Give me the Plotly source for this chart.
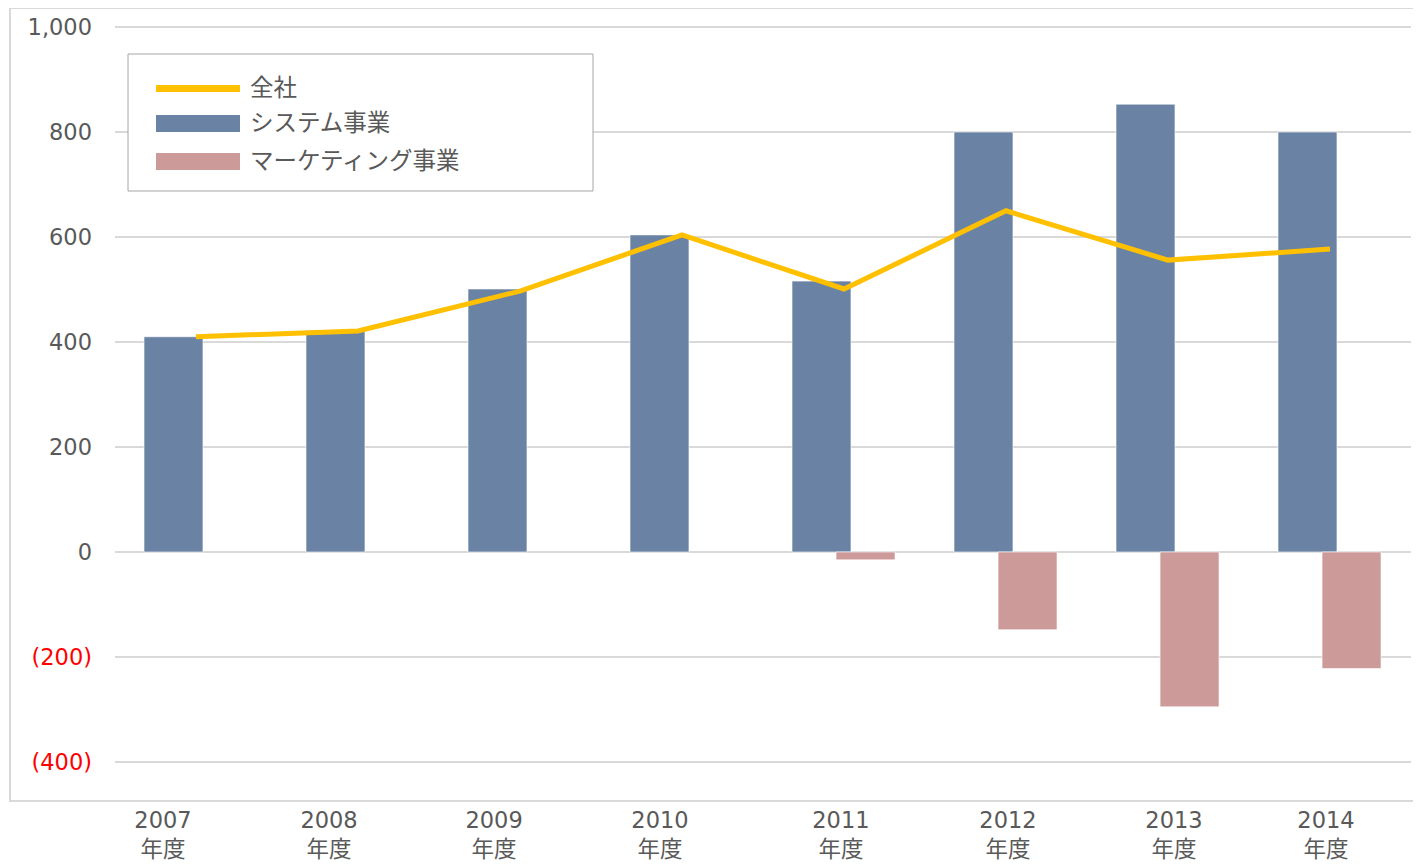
import plotly.graph_objects as go

# ---- data ----
years = ["2007", "2008", "2009", "2010", "2011", "2012", "2013", "2014"]
year_labels = [f"{y}<br>年度" for y in years]
system_vals = [410, 422, 501, 604, 516, 800, 853, 800]
marketing_vals = [None, None, None, None, -15, -148, -295, -222]
total_vals = [410, 421, 497, 604, 501, 650, 556, 577]
y_ticks = [-400, -200, 0, 200, 400, 600, 800, 1000]
y_tick_text = ['<span style="color:#FF0000">(400)</span>',
               '<span style="color:#FF0000">(200)</span>',
               "0", "200", "400", "600", "800", "1,000"]

# label placement nudges (in category units) as seen in the original
label_nudge = [-0.204, -0.179, -0.160, -0.136, -0.019, 0.012, 0.037, -0.025]

C_SYS = "#6A83A4"
C_MKT = "#CC9A99"
C_TOT = "#FFC000"
GRAY = "#595959"
FONT = "DejaVu Sans, Noto Sans CJK JP, sans-serif"

# page has an 8px body margin; work in page pixels, convert to figure pixels
OFF = 8
W, H = 1413, 856
L, R, T, B = 115 - OFF, W - (1411 - OFF), 8 - OFF, H - (801 - OFF)
PW, PH = W - L - R, H - T - B


def px(x):
    return (x - OFF - L) / PW


def py(y):
    return (H - B - (y - OFF)) / PH


xs = list(range(len(years)))
bw = 0.364

fig = go.Figure()
fig.add_trace(go.Bar(
    x=xs, y=system_vals, name="システム事業", width=bw, offset=-0.139 - bw / 2,
    marker=dict(color=C_SYS, line=dict(color="rgba(255,255,255,0.6)", width=1)),
    showlegend=False))
fig.add_trace(go.Bar(
    x=xs, y=marketing_vals, name="マーケティング事業", width=bw, offset=0.133 - bw / 2,
    marker=dict(color=C_MKT, line=dict(color="rgba(255,255,255,0.6)", width=1)),
    showlegend=False))
fig.add_trace(go.Scatter(
    x=xs, y=total_vals, name="全社", mode="lines",
    line=dict(color=C_TOT, width=5), showlegend=False))

# custom legend
shapes = [
    dict(type="rect", xref="paper", yref="paper",
         x0=px(10), x1=px(1420), y0=py(801), y1=py(8),
         line=dict(color="#D9D9D9", width=2), fillcolor="rgba(0,0,0,0)", layer="below"),
    dict(type="rect", xref="paper", yref="paper",
         x0=px(128), x1=px(593), y0=py(191), y1=py(54),
         line=dict(color="#A6A6A6", width=1), fillcolor="white", layer="above"),
    dict(type="rect", xref="paper", yref="paper",
         x0=px(156), x1=px(240), y0=py(92), y1=py(85),
         line=dict(width=0), fillcolor=C_TOT, layer="above"),
    dict(type="rect", xref="paper", yref="paper",
         x0=px(156), x1=px(240), y0=py(132), y1=py(115),
         line=dict(width=0), fillcolor=C_SYS, layer="above"),
    dict(type="rect", xref="paper", yref="paper",
         x0=px(156), x1=px(240), y0=py(170), y1=py(153),
         line=dict(width=0), fillcolor=C_MKT, layer="above"),
]
legend_items = [("全社", 88), ("システム事業", 123), ("マーケティング事業", 161)]
annotations = [
    dict(xref="paper", yref="paper", x=px(248), y=py(yy), text=t, showarrow=False,
         xanchor="left", yanchor="middle", font=dict(size=23.5, color=GRAY, family=FONT))
    for t, yy in legend_items
]

fig.update_layout(
    width=W, height=H,
    margin=dict(l=L, r=R, t=T, b=B),
    plot_bgcolor="white", paper_bgcolor="white",
    barmode="overlay",
    font=dict(family=FONT, size=22.5, color=GRAY),
    shapes=shapes, annotations=annotations,
    xaxis=dict(range=[-0.5, 7.5],
               tickvals=[x + n for x, n in zip(xs, label_nudge)],
               ticktext=year_labels,
               showgrid=False, zeroline=False, showline=False,
               tickfont=dict(size=22.5, color=GRAY), ticklabelstandoff=3),
    yaxis=dict(range=[-474.3, 1036.2], tickvals=y_ticks, ticktext=y_tick_text,
               showgrid=True, gridcolor="#D9D9D9", gridwidth=2,
               zeroline=True, zerolinecolor="#D9D9D9", zerolinewidth=2,
               showline=False, tickfont=dict(size=22.5, color=GRAY),
               ticklabelstandoff=22),
)

fig.write_html("out.html")
